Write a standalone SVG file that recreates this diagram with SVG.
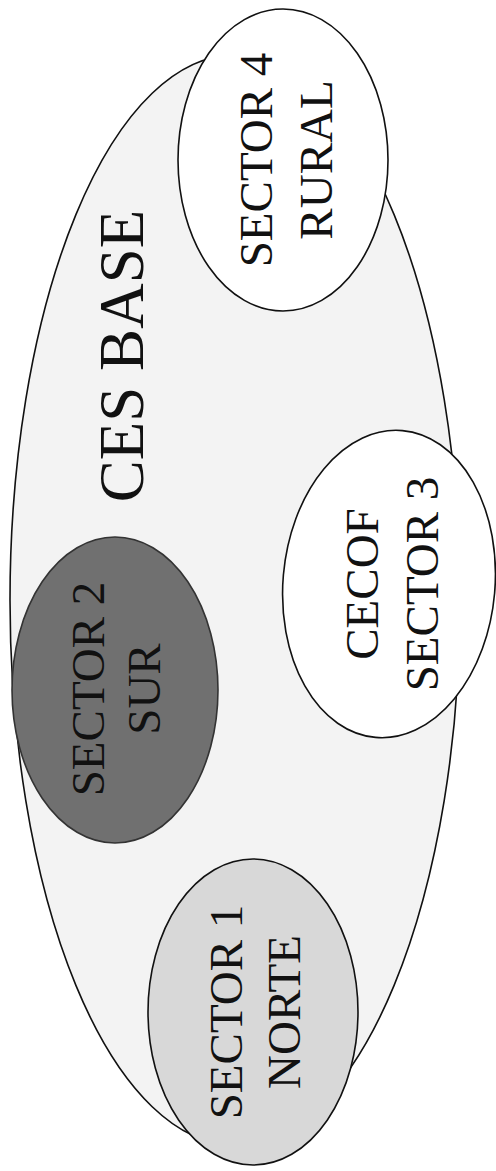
<svg xmlns="http://www.w3.org/2000/svg" width="496" height="1171" viewBox="0 0 496 1171">
<style>
.sh{stroke:#111;stroke-width:1.6}
.t{font-family:"Liberation Serif","Times New Roman",serif;text-anchor:middle;fill:#111}
.s{font-size:47px}
.big{font-size:63px}
</style>
<rect width="496" height="1171" fill="#fff"/>
<g id="ces-base">
<ellipse class="sh" cx="235" cy="600" rx="225" ry="545" fill="#f3f3f3"/>
<text class="t big" transform="translate(143,356) rotate(-90)">CES BASE</text>
</g>
<g id="sector4">
<ellipse class="sh" cx="283" cy="160" rx="105" ry="151" fill="#fff"/>
<text class="t s" transform="translate(272,160) rotate(-90)">SECTOR 4</text>
<text class="t s" transform="translate(332,160) rotate(-90)">RURAL</text>
</g>
<g id="sector3">
<ellipse class="sh" cx="389" cy="584" rx="106" ry="154" fill="#fff" transform="rotate(5 389 584)"/>
<text class="t s" transform="translate(378,584) rotate(-90)">CECOF</text>
<text class="t s" transform="translate(438,584) rotate(-90)">SECTOR 3</text>
</g>
<g id="sector2">
<ellipse cx="115" cy="690" rx="103" ry="153" fill="#707070" stroke="#333" stroke-width="1.6"/>
<text class="t s" fill="#222" transform="translate(104,689) rotate(-90)">SECTOR 2</text>
<text class="t s" transform="translate(160,689) rotate(-90)">SUR</text>
</g>
<g id="sector1">
<ellipse class="sh" cx="253" cy="1012" rx="105" ry="153" fill="#d8d8d8"/>
<text class="t s" transform="translate(242,1012) rotate(-90)">SECTOR 1</text>
<text class="t s" transform="translate(300,1012) rotate(-90)">NORTE</text>
</g>
<g id="connectors"/>
</svg>
